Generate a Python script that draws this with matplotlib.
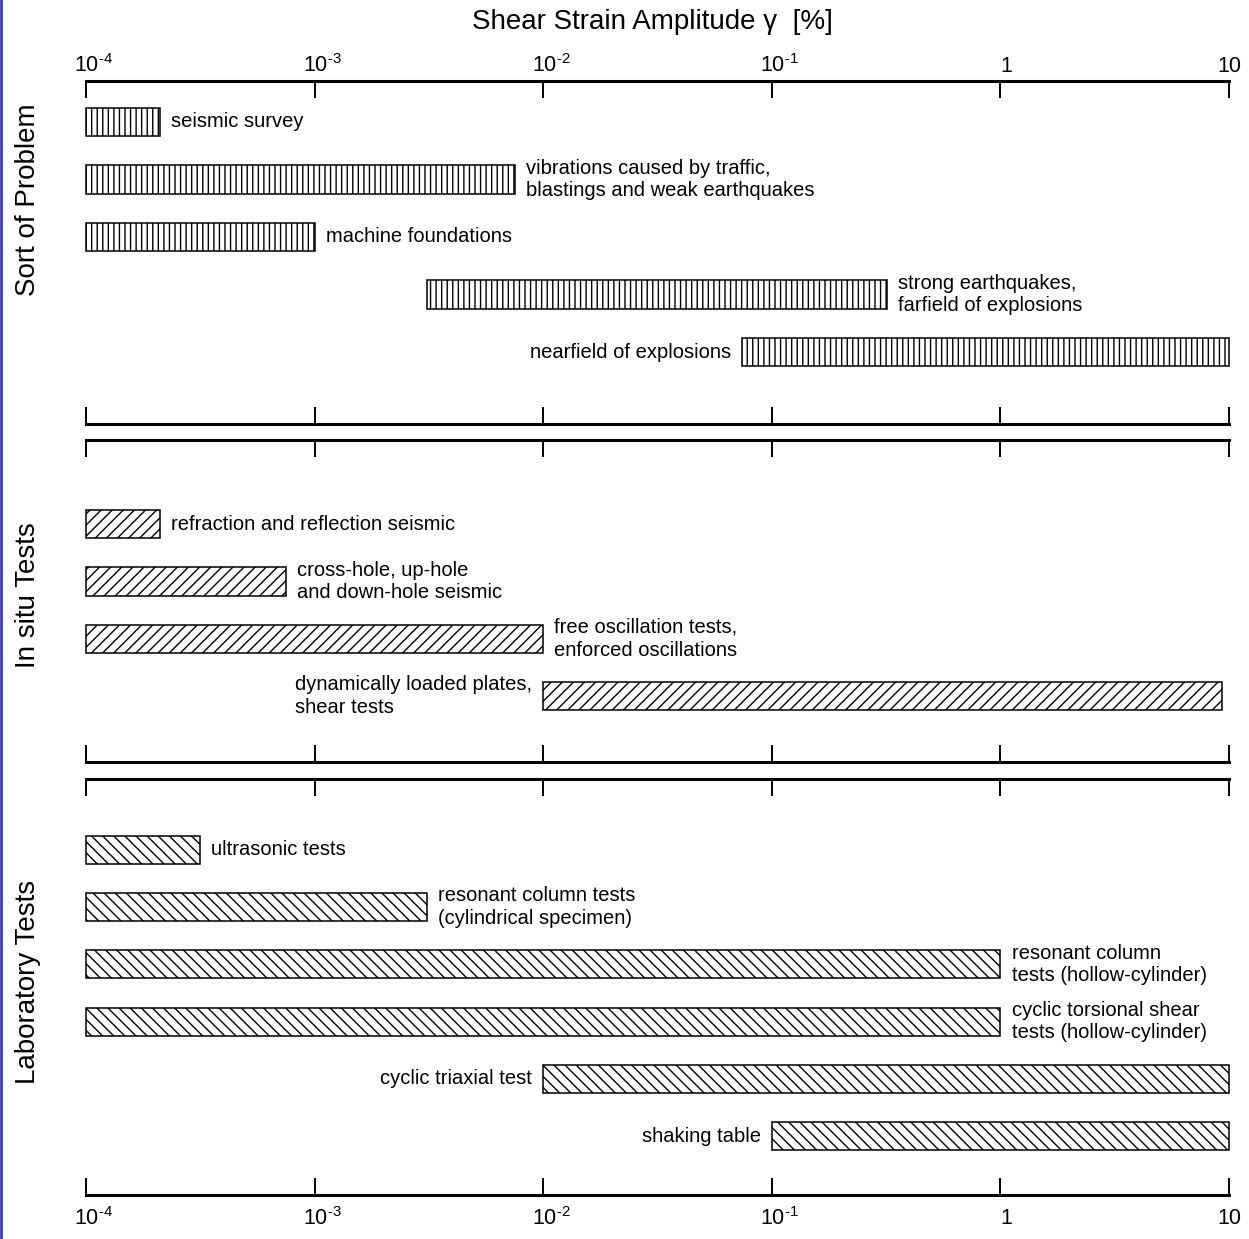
import numpy as np
import matplotlib.pyplot as plt
from matplotlib.lines import Line2D
from matplotlib.ticker import FixedLocator, NullLocator

plt.rcParams['font.family'] = ['Liberation Sans', 'DejaVu Sans']
plt.rcParams['mathtext.fontset'] = 'custom'
plt.rcParams['mathtext.rm'] = 'Liberation Sans'
plt.rcParams['hatch.linewidth'] = 1.0

# Strain axis
tick_values = [1e-4, 1e-3, 1e-2, 1e-1, 1, 10]
tick_labels = ['$\\mathregular{10^{\u20104}}$', '$\\mathregular{10^{\u20103}}$',
               '$\\mathregular{10^{\u20102}}$', '$\\mathregular{10^{\u20101}}$', '1', '10']
tick_shift = [8, 8, 8, 8, 6, 0]  # px, labels sit a bit right of the ticks

# Sort of problem
problem_labels = ['seismic survey',
                  'vibrations caused by traffic,\nblastings and weak earthquakes',
                  'machine foundations',
                  'strong earthquakes,\nfarfield of explosions',
                  'nearfield of explosions']
problem_lo = [1e-4, 1e-4, 1e-4, 3.1e-3, 7.4e-2]
problem_hi = [2.1e-4, 7.5e-3, 1e-3, 3.2e-1, 10]
problem_side = ['right', 'right', 'right', 'right', 'left']

# In situ tests
insitu_labels = ['refraction and reflection seismic',
                 'cross-hole, up-hole\nand down-hole seismic',
                 'free oscillation tests,\nenforced oscillations',
                 'dynamically loaded plates,\nshear tests']
insitu_lo = [1e-4, 1e-4, 1e-4, 1e-2]
insitu_hi = [2.1e-4, 7.5e-4, 1e-2, 9.3]
insitu_side = ['right', 'right', 'right', 'left']

# Laboratory tests
lab_labels = ['ultrasonic tests',
              'resonant column tests\n(cylindrical specimen)',
              'resonant column\ntests (hollow-cylinder)',
              'cyclic torsional shear\ntests (hollow-cylinder)',
              'cyclic triaxial test',
              'shaking table']
lab_lo = [1e-4, 1e-4, 1e-4, 1e-4, 1e-2, 1e-1]
lab_hi = [3.15e-4, 3.1e-3, 1, 1, 10, 10]
lab_side = ['right', 'right', 'right', 'right', 'left', 'left']

fig = plt.figure(figsize=(12.49, 12.39), dpi=100)

W, H = 1249, 1239
left = 86 / W
width = 1143 / W
px = 72 / 100  # points per pixel

def make_panel(top_px, bot_px, labels, lo, hi, side, hatch, ylim, ylabel, ylabel_y):
    ax = fig.add_axes([left, 1 - bot_px / H, width, (bot_px - top_px) / H])
    rows = np.arange(len(labels))
    lo = np.array(lo)
    hi = np.array(hi)
    ax.barh(rows, hi - lo, left=lo, height=0.49, color='white', edgecolor='black',
            linewidth=1.1, hatch=hatch, clip_on=False)
    for r, lab, a, b, s in zip(rows, labels, lo, hi, side):
        if s == 'right':
            ax.annotate(lab, xy=(b, r), xytext=(8, 0), textcoords='offset points',
                        ha='left', va='center', fontsize=14.5, linespacing=1.25)
        else:
            ax.annotate(lab, xy=(a, r), xytext=(-8, 0), textcoords='offset points',
                        ha='right', va='center', multialignment='left',
                        fontsize=14.5, linespacing=1.25)
    ax.set_xscale('log')
    ax.set_xlim(1e-4, 10)
    ax.set_ylim(*ylim)
    ax.xaxis.set_major_locator(FixedLocator(tick_values))
    ax.xaxis.set_minor_locator(NullLocator())
    ax.set_yticks([])
    for sp in ['left', 'right']:
        ax.spines[sp].set_visible(False)
    for sp in ['top', 'bottom']:
        ax.spines[sp].set_linewidth(2.2)
    ax.tick_params(axis='x', which='major', direction='in', length=12, width=1.4,
                   top=True, bottom=True, labeltop=False, labelbottom=False)
    ax.patch.set_alpha(0)
    fig.text(28 / W, 1 - ylabel_y / H, ylabel, rotation=90, ha='center', va='center',
             fontsize=20)
    return ax

ax1 = make_panel(81, 424, problem_labels, problem_lo, problem_hi, problem_side,
                 '|||', (5.25, -0.71), 'Sort of Problem', 200)
for v, t, dx in zip(tick_values, tick_labels, tick_shift):
    ax1.annotate(t, xy=(v, 1), xycoords=('data', 'axes fraction'),
                 xytext=(dx * px, 3), textcoords='offset points',
                 ha='center', va='bottom', fontsize=15.5)

ax2 = make_panel(440, 762, insitu_labels, insitu_lo, insitu_hi, insitu_side,
                 '///', (4.15, -1.47), 'In situ Tests', 595)

ax3 = make_panel(779, 1195, lab_labels, lab_lo, lab_hi, lab_side,
                 '\\\\\\', (6.03, -1.24), 'Laboratory Tests', 982)
for v, t, dx in zip(tick_values, tick_labels, tick_shift):
    ax3.annotate(t, xy=(v, 0), xycoords=('data', 'axes fraction'),
                 xytext=(dx * px, -9), textcoords='offset points',
                 ha='center', va='top', fontsize=15.5)

fig.text(652 / W, 1 - 22 / H, 'Shear Strain Amplitude γ  [%]', ha='center', va='center',
         fontsize=20)

# thin blue frame line at the left edge of the original image
fig.add_artist(Line2D([0.0008, 0.0008], [0, 1], color='#3f3fb0', lw=2,
                      transform=fig.transFigure))

plt.savefig('out.png', dpi=100)
